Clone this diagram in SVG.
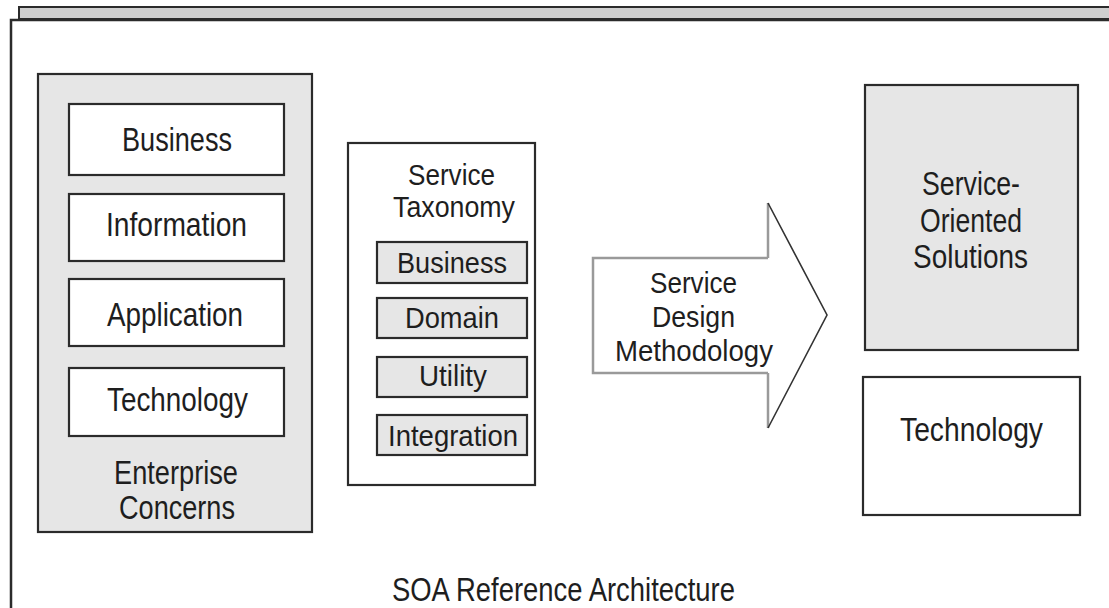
<svg xmlns="http://www.w3.org/2000/svg" width="1109" height="608" viewBox="0 0 1109 608">
  <style>
    .box { stroke: #2b2b2b; stroke-width: 2.2; }
    .white { fill: #ffffff; }
    .grey { fill: #e6e6e6; }
    .lbl { font-family: "Liberation Sans", Arial, sans-serif; font-size: 33px; fill: #1e1e1e; text-anchor: middle; }
    .sm { font-size: 30px; }
  </style>
  <rect width="1109" height="608" fill="#ffffff"/>

  <!-- page frame with title band -->
  <g id="frame">
    <rect x="19" y="7" width="1100" height="12" fill="#cfcfcf" stroke="#2b2b2b" stroke-width="2"/>
    <path d="M11,608 V20 H1109" fill="none" stroke="#2b2b2b" stroke-width="2.5"/>
  </g>

  <!-- enterprise concerns -->
  <g id="enterprise-concerns">
    <rect class="box grey" x="38" y="74" width="274" height="458"/>
    <text class="lbl" x="176" y="484" textLength="124" lengthAdjust="spacingAndGlyphs">Enterprise</text>
    <text class="lbl" x="177" y="519" textLength="116" lengthAdjust="spacingAndGlyphs">Concerns</text>
  </g>
  <g id="ec-business">
    <rect class="box white" x="69" y="104" width="215" height="71"/>
    <text class="lbl" x="177" y="151" textLength="110" lengthAdjust="spacingAndGlyphs">Business</text>
  </g>
  <g id="ec-information">
    <rect class="box white" x="69" y="194" width="215" height="67"/>
    <text class="lbl" x="176.5" y="236" textLength="141" lengthAdjust="spacingAndGlyphs">Information</text>
  </g>
  <g id="ec-application">
    <rect class="box white" x="69" y="279" width="215" height="67"/>
    <text class="lbl" x="175" y="326" textLength="136" lengthAdjust="spacingAndGlyphs">Application</text>
  </g>
  <g id="ec-technology">
    <rect class="box white" x="69" y="368" width="215" height="68"/>
    <text class="lbl" x="177.5" y="411" textLength="141" lengthAdjust="spacingAndGlyphs">Technology</text>
  </g>

  <!-- service taxonomy -->
  <g id="service-taxonomy">
    <rect class="box white" x="348" y="143" width="187" height="342"/>
    <text class="lbl sm" x="451.5" y="185" textLength="87" lengthAdjust="spacingAndGlyphs">Service</text>
    <text class="lbl sm" x="454" y="217" textLength="122" lengthAdjust="spacingAndGlyphs">Taxonomy</text>
  </g>
  <g id="st-business">
    <rect class="box grey" x="377" y="242" width="150" height="41"/>
    <text class="lbl sm" x="452" y="273" textLength="110" lengthAdjust="spacingAndGlyphs">Business</text>
  </g>
  <g id="st-domain">
    <rect class="box grey" x="377" y="298" width="150" height="40"/>
    <text class="lbl sm" x="452" y="328" textLength="94" lengthAdjust="spacingAndGlyphs">Domain</text>
  </g>
  <g id="st-utility">
    <rect class="box grey" x="377" y="357" width="150" height="40"/>
    <text class="lbl sm" x="453" y="386" textLength="68" lengthAdjust="spacingAndGlyphs">Utility</text>
  </g>
  <g id="st-integration">
    <rect class="box grey" x="377" y="415" width="150" height="40" stroke="#777"/>
    <text class="lbl sm" x="453" y="446" textLength="130" lengthAdjust="spacingAndGlyphs">Integration</text>
  </g>

  <!-- design methodology block arrow -->
  <g id="design-methodology">
    <path d="M768,258 H593 V373 H768" fill="#ffffff" stroke="#9a9a9a" stroke-width="2.5"/>
    <path d="M768,258 V203 M768,373 V428" fill="none" stroke="#9a9a9a" stroke-width="2.5"/>
    <path d="M768,203 L827,315 L768,428" fill="none" stroke="#333" stroke-width="1.6"/>
    <text class="lbl sm" x="693.5" y="293" textLength="87" lengthAdjust="spacingAndGlyphs">Service</text>
    <text class="lbl sm" x="693.5" y="327" textLength="83" lengthAdjust="spacingAndGlyphs">Design</text>
    <text class="lbl sm" x="694" y="361" textLength="158" lengthAdjust="spacingAndGlyphs">Methodology</text>
  </g>

  <!-- outcomes -->
  <g id="service-oriented-solutions">
    <rect class="box grey" x="865" y="85" width="213" height="265"/>
    <text class="lbl" x="971" y="195" textLength="98" lengthAdjust="spacingAndGlyphs">Service-</text>
    <text class="lbl" x="971" y="232" textLength="102" lengthAdjust="spacingAndGlyphs">Oriented</text>
    <text class="lbl" x="970.5" y="268" textLength="115" lengthAdjust="spacingAndGlyphs">Solutions</text>
  </g>
  <g id="technology">
    <rect class="box white" x="863" y="377" width="217" height="138"/>
    <text class="lbl" x="971.5" y="441" textLength="143" lengthAdjust="spacingAndGlyphs">Technology</text>
  </g>

  <g id="connectors"/>

  <g id="caption">
    <text class="lbl" x="563.5" y="601" textLength="343" lengthAdjust="spacingAndGlyphs">SOA Reference Architecture</text>
  </g>
</svg>
